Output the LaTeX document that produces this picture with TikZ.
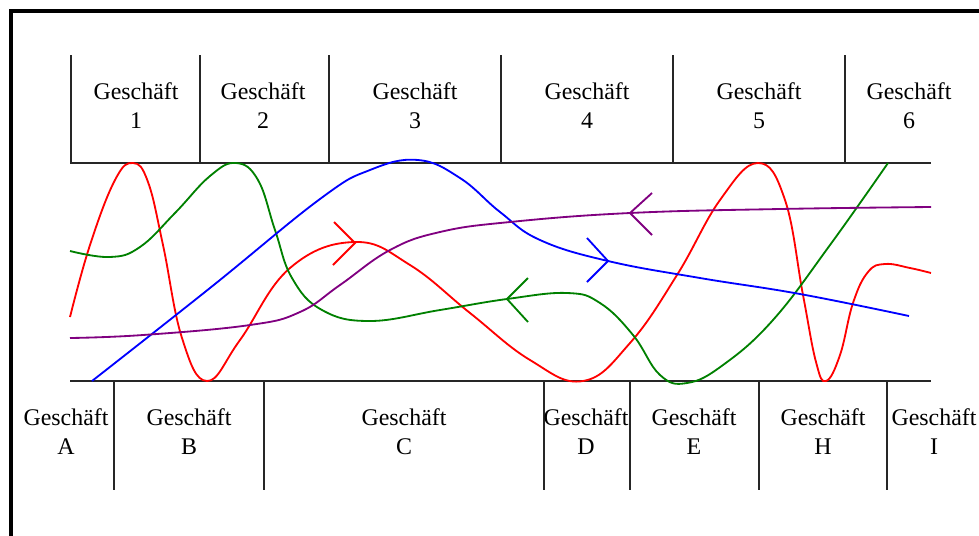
\documentclass[tikz,border=0pt]{standalone}
\usepackage{fontspec}
\setmainfont{Liberation Serif}
\definecolor{pgreen}{RGB}{0,128,0}
\definecolor{ppurple}{RGB}{128,0,128}
\tikzset{
    outerframe/.style={line width=2.4pt, black},
    bar/.style={line width=1.3pt, black!85},
    lbl/.style={align=center, font=\fontsize{17}{20.6}\selectfont, inner sep=0pt},
    curve/.style={line width=1.3pt, smooth, tension=0.7},
    vmark/.style={line width=1.3pt}
}
\begin{document}
\begin{tikzpicture}[x=0.025cm, y=-0.025cm]
    \useasboundingbox (0,0) rectangle (979,535);
    \clip (0,0) rectangle (979,535);
    \draw[outerframe] (11,11) rectangle (1000,560);

    % upper row
    \draw[bar] (70,163) -- (931,163);
    \foreach \x in {71,200,329,501,673,845}
        \draw[bar] (\x,55) -- (\x,163);
    \node[lbl] (g1) at (136,106) {Geschäft\\1};
    \node[lbl] (g2) at (263,106) {Geschäft\\2};
    \node[lbl] (g3) at (415,106) {Geschäft\\3};
    \node[lbl] (g4) at (587,106) {Geschäft\\4};
    \node[lbl] (g5) at (759,106) {Geschäft\\5};
    \node[lbl] (g6) at (909,106) {Geschäft\\6};

    % lower row
    \draw[bar] (70,381) -- (931,381);
    \foreach \x in {114,264,544,630,759,887}
        \draw[bar] (\x,381) -- (\x,490);
    \node[lbl] (ga) at (66,432) {Geschäft\\A};
    \node[lbl] (gb) at (189,432) {Geschäft\\B};
    \node[lbl] (gc) at (404,432) {Geschäft\\C};
    \node[lbl] (gd) at (586,432) {Geschäft\\D};
    \node[lbl] (ge) at (694,432) {Geschäft\\E};
    \node[lbl] (gh) at (823,432) {Geschäft\\H};
    \node[lbl] (gi) at (934,432) {Geschäft\\I};

    % flows
    \draw[curve, red] plot coordinates {(70,317) (90,245) (115,180) (133,163) (148,182) (163,245) (182,338) (207,381) (240,340) (290,268) (355,242) (410,265) (470,313) (530,360) (583,381) (630,343) (677,275) (720,200) (758,163) (785,200) (803,295) (816,362) (826,381) (840,355) (853,303) (868,272) (885,264) (910,268) (931,273)};
    \draw[curve, pgreen] plot coordinates {(70,251) (110,257) (140,247) (175,213) (210,176) (236,163) (258,180) (275,230) (292,278) (322,310) (370,321) (440,310) (507,299) (567,293) (600,303) (633,335) (660,375) (687,383) (723,365) (773,320) (830,245) (888,163)};
    \draw[curve, blue] plot coordinates {(92,381) (210,288) (320,199) (370,170) (418,160) (460,178) (500,212) (540,240) (608,261) (700,278) (800,294) (909,316)};
    \draw[curve, ppurple] plot coordinates {(70,338) (143,335) (250,325) (300,312) (340,285) (390,250) (440,232) (510,222) (630,213) (780,209) (931,207)};

    % direction marks
    \draw[vmark, red] (334,222) -- (355,243) -- (333,265);
    \draw[vmark, pgreen] (528,278) -- (507,299) -- (528,322);
    \draw[vmark, blue] (587,238) -- (608,261) -- (587,282);
    \draw[vmark, ppurple] (652,193) -- (630,213) -- (652,235);
\end{tikzpicture}
\end{document}
